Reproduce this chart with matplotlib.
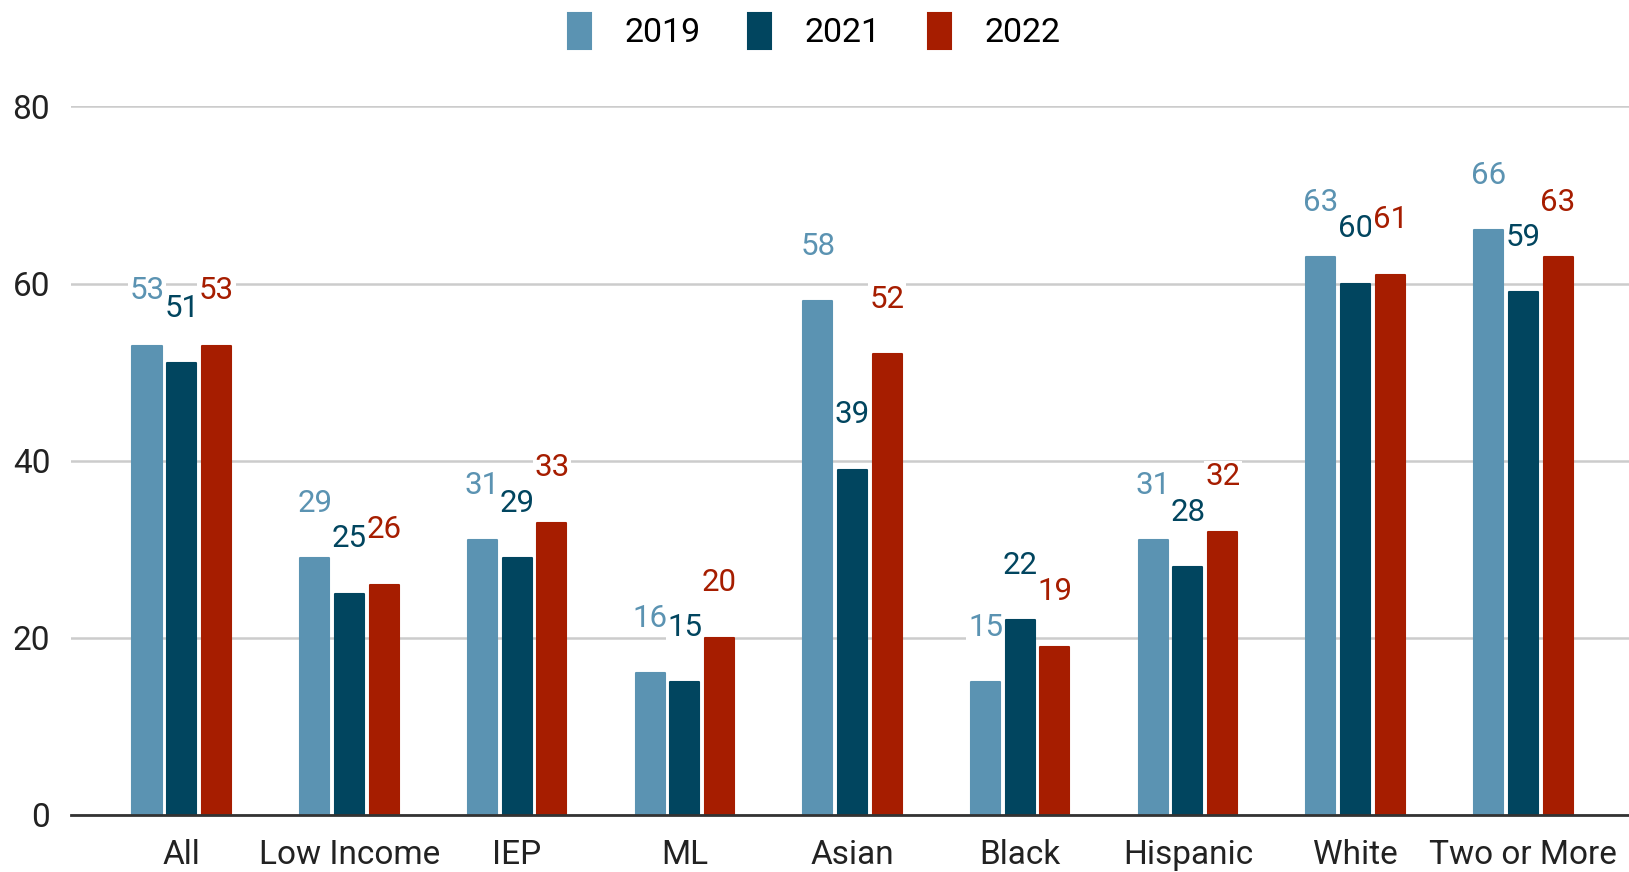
import matplotlib

matplotlib.use("Agg")
import matplotlib.pyplot as plt
import numpy as np

categories = ["All", "Low Income", "IEP", "ML", "Asian", "Black", "Hispanic", "White", "Two or More"]
years = ["2019", "2021", "2022"]
vals_2019 = [53, 29, 31, 16, 58, 15, 31, 63, 66]
vals_2021 = [51, 25, 29, 15, 39, 22, 28, 60, 59]
vals_2022 = [53, 26, 33, 20, 52, 19, 32, 61, 63]
yticks = [0, 20, 40, 60, 80]

COLORS = ["#5b93b2", "#01455f", "#a61d00"]
GRID_COLOR = "#cccccc"
PITCH = 0.207
WIDTH = 0.173
LABEL_LIFT = 6.2

plt.rcParams["font.family"] = ["Roboto", "DejaVu Sans"]

fig = plt.figure(figsize=(16.29, 8.72), dpi=100)
ax = fig.add_axes([0.0436, 0.0654, 0.9564, 0.8126])

x = np.arange(len(categories))
series = [vals_2019, vals_2021, vals_2022]
for i, (vals, year, color) in enumerate(zip(series, years, COLORS)):
    xs = x + (i - 1) * PITCH
    ax.bar(xs, vals, width=WIDTH, color=color, edgecolor=color, linewidth=1.5,
           joinstyle="round", label=year, zorder=3)
    for xi, v in zip(xs, vals):
        ax.text(xi, v + LABEL_LIFT, str(v), ha="center", va="center", fontsize=22.5,
                color=color, zorder=2,
                bbox=dict(boxstyle="square,pad=0.05", fc="white", ec="none"))

ax.set_ylim(0, 80)
ax.set_xlim(-0.66, len(categories) - 1 + 0.63)
ax.set_yticks(yticks)
ax.set_xticks(x)
ax.set_xticklabels(categories)
ax.tick_params(axis="both", length=0, labelsize=24, colors="#222222")
ax.tick_params(axis="y", pad=15)
ax.tick_params(axis="x", pad=17)
ax.yaxis.grid(True, color=GRID_COLOR, linewidth=1.8, zorder=0)
ax.set_axisbelow(True)
for side in ["top", "right", "left"]:
    ax.spines[side].set_visible(False)
ax.spines["bottom"].set_color("#333333")
ax.spines["bottom"].set_linewidth(2)
ax.spines["bottom"].set_zorder(4)

fig.legend(loc="center", bbox_to_anchor=(0.5, 1 - 31 / 872), ncol=3, frameon=False,
           fontsize=24.5, handlelength=0.65, handleheight=1.25, handletextpad=1.0,
           columnspacing=1.4, borderaxespad=0)

fig.savefig("out.png", dpi=100)
